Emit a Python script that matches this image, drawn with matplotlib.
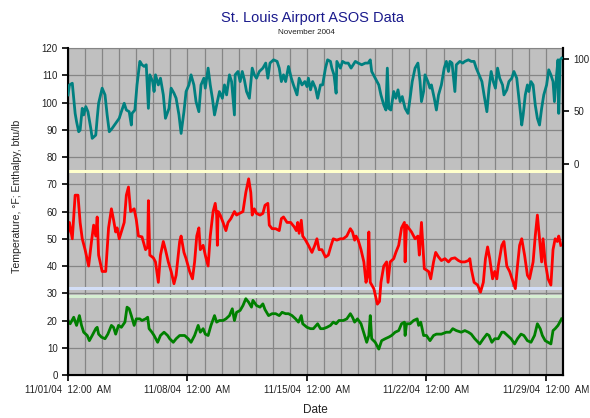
import numpy as np
import pandas as pd
import matplotlib
matplotlib.use('Agg')
import matplotlib.pyplot as plt
import matplotlib.dates as mdates

# hours since 11/01/04 00:00 and readings
temp_hours = [0, 2, 6, 10, 14, 17, 20, 24, 29, 33, 36, 39, 41, 43, 48, 53, 57, 61, 64, 67, 69, 72, 79, 82, 85,
              88, 93, 96, 99, 104, 109, 112, 113, 115, 120, 123, 127, 130, 134, 137,
              141, 145, 149, 152, 157, 159, 163, 166, 171, 175, 178, 181, 184, 186, 190, 193, 197, 200, 204,
              207, 209, 210, 211, 214, 218, 222, 225, 229, 234, 237, 241, 246, 250, 254, 257, 259, 262, 265,
              270, 274, 277,
              281, 283, 287, 292, 297, 300, 303, 308, 313, 318, 321, 323, 325, 328, 330, 334, 338, 343, 347,
              350, 353, 357, 362, 366, 370, 373, 378, 383, 387, 392, 397, 400, 403, 405, 408, 412, 416, 419,
              421, 423, 425, 430, 435, 438, 440, 444, 448, 450, 453, 458, 461, 465, 469, 473, 474, 476, 483,
              488, 492, 494, 497, 501, 507, 510, 514, 517, 521, 525, 530, 535, 539, 544, 549, 553,
              558, 563, 565, 567, 571, 576, 580, 584, 587, 590, 593, 597, 600, 603, 605, 610, 613, 617, 621,
              626, 629, 632, 635, 638, 642, 646, 649, 654, 657, 660, 663, 666, 668, 671, 675, 679, 682, 685,
              688, 690, 693]
temp_f = [52.5, 56, 50, 66, 66, 56, 50, 46, 40, 49, 55, 51, 58, 44, 38, 38, 54, 61, 57, 52.5, 54, 50, 56, 66, 69,
          60, 61, 57, 51, 50.7, 46, 47, 64, 44, 43, 41.5, 34, 44, 49, 46,
          41.5, 38, 33.5, 36.6, 49, 51, 45, 42.7, 38, 35.3, 41.5, 51, 54, 46, 47.6, 44, 40, 51, 60,
          63, 58.7, 47.6, 60, 58.7, 56, 53, 56, 57.4, 60, 58.7, 59.3, 60, 67, 72, 67, 58.7, 61, 59.3,
          58.7, 59.3, 62.3,
          63, 55, 53.7, 53.7, 53, 57.4, 58, 56, 56, 54.4, 53, 56, 52, 56.8, 51, 49.5, 47.6, 45, 47.6,
          50, 46, 46, 43.3, 44, 47.6, 50, 49.5, 50, 50, 51, 53.7, 52.5, 49.5, 51, 49.5, 46, 41.5, 34,
          36, 52.5, 34, 31.7, 26, 27, 34, 40, 41.5, 34, 41.5, 42.7, 45, 47.6, 54, 56, 41.5, 55, 52.5,
          50, 51, 44, 56, 39, 38, 35.3, 41.5, 45, 43.3, 42, 42.7, 41.5, 42.7, 43, 42, 41.5,
          41.5, 42, 42.7, 39, 34, 33, 30.4, 34, 42.7, 47, 42.7, 35.3, 38, 35.3, 40, 47.6, 49, 40, 38,
          34, 31.7, 40, 47.6, 50, 44, 36.6, 35.3, 41.5, 51, 58.7, 50, 41.5, 50, 41.5, 35.3, 33, 46, 50,
          49, 51, 47.6]

enth_hours = [0, 3, 8, 12, 16, 19, 22, 27, 30, 34, 39, 41, 43, 47, 52, 56, 61, 64, 67, 71, 75, 80, 83, 86, 89,
              93, 96, 101, 104, 109, 112, 114, 118, 121, 126, 130, 135,
              140, 143, 148, 152, 157, 164, 169, 173, 178, 183, 186, 190, 193, 197, 201, 206, 209, 213, 218,
              222, 227, 231, 234, 237, 242, 246, 250, 254, 258, 260, 265, 270, 274,
              277, 282, 287, 292, 297, 301, 306, 310, 315, 320, 324, 328, 330, 336, 341, 345, 351, 355, 359,
              364, 369, 373, 377, 381, 387, 392, 397, 400, 403, 407, 412, 417, 420,
              423, 425, 427, 432, 437, 441, 446, 451, 455, 460, 465, 469, 473, 474, 476, 481, 486, 491, 493,
              496, 500, 504, 509, 514, 518, 525, 532, 537, 541, 546, 553,
              558, 563, 567, 572, 579, 584, 589, 592, 596, 600, 605, 610, 613, 618, 623, 628, 632, 637, 641,
              646, 651, 656, 660, 664, 667, 671, 675, 679, 682, 685, 689, 694]
enth_btu = [20, 18.8, 21.2, 18.2, 21.8, 18.2, 15.7, 14.5, 12.6, 14.5, 17, 17.5, 15, 13.9, 13.3, 15, 18.2, 17.5,
            15, 18.2, 17.5, 19.4, 24.9, 24.3, 21.8, 18.2, 20.6, 20.6, 20, 20.6, 21.2, 17, 15.7, 14.5, 12,
            14.5, 15.7,
            14.5, 13.3, 12, 13.3, 14.5, 14.5, 13.3, 12, 14.5, 18.2, 15.7, 17, 15, 14.5, 18.2, 21.8, 19.4,
            20, 20, 20.6, 21.8, 24.3, 20, 23, 23.7, 25.5, 28, 26.7, 24.9, 27.4, 25.5, 24.9, 26.1,
            24, 21.8, 22.5, 22.5, 21.8, 23, 22.5, 22.5, 21.8, 20.6, 19.4, 21.8, 18.8, 17.5, 17, 17, 18.8,
            17, 17, 17.5, 18.2, 19.4, 18.8, 20, 20, 20.6, 22.5, 21.2, 19.4, 20.6, 18.8, 14.5, 12,
            14.5, 21.8, 13.3, 12, 9.5, 12.6, 13.3, 13.9, 14.5, 15.7, 16.3, 18.8, 19.4, 14.5, 18.8, 18.8,
            20, 20.6, 18.2, 19.4, 14.5, 14.5, 12.6, 14.5, 15, 15, 15.7, 15.7, 17, 16.3, 15.7,
            16.3, 15.7, 15, 13.3, 11.4, 13.3, 15, 14.5, 12, 13.3, 13.3, 15.7, 15.7, 14.5, 13.3, 11.4,
            13.3, 15, 14.5, 12.6, 12, 14.5, 18.8, 17, 14.5, 12.6, 12, 11.4, 16.3, 17, 18.2, 20.6]

rh_hours = [0, 2, 6, 8, 10, 12, 15, 17, 20, 22, 25, 28, 32, 34, 39, 41, 43, 48, 52, 55, 58, 62, 67, 72, 75,
            79, 82, 86, 89, 90, 94, 97, 101, 104, 107, 110, 113, 115, 119, 121, 123, 127, 130, 134, 137,
            142, 145, 149, 152, 156, 159, 163, 166, 170, 173, 177, 180, 184, 187, 191, 193, 197, 200, 203,
            206, 209, 213, 217, 220, 223, 227, 230, 234, 235, 239, 242, 245, 248, 251, 255, 259, 262, 265,
            269, 274, 278,
            281, 284, 289, 294, 297, 300, 303, 306, 310, 314, 317, 322, 325, 329, 333, 336, 338, 341, 344,
            348, 351, 355, 358, 362, 365, 369, 371, 374, 377, 378, 383, 386, 390, 394, 398, 401, 404, 408,
            413, 418,
            422, 425, 427, 432, 437, 440, 444, 447, 449, 451, 454, 458, 461, 464, 467, 470, 474, 478, 481,
            484, 488, 492, 495, 497, 500, 502, 506, 509, 511, 515, 518, 521, 525, 529, 532, 535, 537, 540,
            544, 546, 551, 555,
            558, 563, 567, 571, 574, 578, 582, 585, 589, 592, 595, 598, 601, 604, 607, 611, 613, 617, 620,
            624, 627, 631, 633, 636, 638, 640, 643, 646, 648, 651, 654, 657, 660, 663, 666, 669, 673, 676,
            679, 682, 684, 687, 689, 690, 692, 694]
rh_pct = [65.8, 75.3, 76.9, 62.6, 48.2, 40.3, 30.7, 32.3, 53.0, 46.7, 54.6, 49.8, 33.9, 24.4, 27.5, 43.5, 57.8,
          72.2, 65.8, 46.7, 30.7, 33.9, 38.7, 43.5, 49.8, 57.8, 51.4, 49.8, 37.1, 48.2, 51.4, 75.3, 97.7,
          94.5, 92.9, 94.5, 53.0, 84.9, 78.5, 69.0, 84.9, 75.3, 81.7, 65.8, 43.5,
          53.0, 72.2, 67.4, 62.6, 46.7, 29.1, 49.8, 69.0, 75.3, 84.9, 75.3, 59.4, 49.8, 75.3, 81.7, 72.2,
          91.3, 75.3, 62.6, 46.7, 56.2, 69.0, 62.6, 75.3, 65.8, 84.9, 78.5, 46.7, 84.9, 88.1, 78.5, 88.1,
          80.1, 69.0, 62.6, 91.3, 84.9, 81.7, 88.1, 91.3, 96.1,
          81.7, 96.1, 99.2, 97.7, 91.3, 78.5, 84.9, 78.5, 92.9, 81.7, 75.3, 65.8, 81.7, 75.3, 78.5, 73.7,
          81.7, 70.6, 78.5, 72.2, 62.6, 75.3, 75.3, 91.3, 99.2, 97.7, 91.3, 84.9, 67.4, 97.7, 91.3, 97.7,
          96.1, 96.1, 91.3, 94.5, 97.7, 96.1, 94.5, 96.1,
          96.1, 99.2, 88.1, 81.7, 75.3, 65.8, 56.2, 51.4, 91.3, 53.0, 51.4, 69.0, 62.6, 70.6, 59.4, 64.2,
          53.0, 48.2, 62.6, 78.5, 91.3, 96.1, 78.5, 59.4, 69.0, 84.9, 78.5, 72.2, 75.3, 62.6, 51.4, 65.8,
          75.3, 91.3, 97.7, 88.1, 97.7, 96.1, 69.0, 94.5, 97.7, 96.1,
          97.7, 99.2, 97.7, 97.7, 91.3, 84.9, 78.5, 65.8, 49.8, 72.2, 88.1, 78.5, 72.2, 91.3, 81.7, 75.3,
          65.8, 70.6, 78.5, 81.7, 88.1, 81.7, 69.0, 49.8, 37.1, 46.7, 65.8, 75.3, 69.0, 78.5, 75.3, 56.2,
          43.5, 37.1, 53.0, 65.8, 75.3, 89.7, 84.9, 78.5, 59.4, 84.9, 99.2, 48.2, 99.2, 100.8]

# reference lines on the left scale
ref_levels = [75, 32, 29]
ref_colors = ['#FFFFCC', '#D3DEF7', '#D6EED2']

start = pd.Timestamp('2004-11-01')
end = pd.Timestamp('2004-11-30')
t_temp = start + pd.to_timedelta(temp_hours, unit='h')
t_enth = start + pd.to_timedelta(enth_hours, unit='h')
t_rh = start + pd.to_timedelta(rh_hours, unit='h')

plt.rcParams['font.family'] = ['Liberation Sans', 'DejaVu Sans']

fig = plt.figure(figsize=(5.9, 4.18), dpi=100)
ax = fig.add_axes([0.1153, 0.1029, 0.8389, 0.7821])
ax.set_facecolor('#C0C0C0')

for lvl, c in zip(ref_levels, ref_colors):
    ax.axhline(lvl, color=c, lw=2.2, zorder=2)

ax.plot(t_temp, temp_f, color='#FF0000', lw=2.0, zorder=3)
ax.plot(t_enth, enth_btu, color='#008000', lw=2.0, zorder=3)

ax.set_ylim(0, 120)
ax.set_yticks(np.arange(0, 121, 10))
ax.set_xlim(start, end)
ax.xaxis.set_major_locator(mdates.DayLocator(bymonthday=[1, 8, 15, 22, 29]))
ax.xaxis.set_minor_locator(mdates.DayLocator())
ax.xaxis.set_major_formatter(mdates.DateFormatter('%m/%d/%y  %I:%M  %p'))
ax.grid(True, which='both', color='#858585', lw=0.9, zorder=1)
ax.set_axisbelow(True)
ax.tick_params(axis='both', which='major', labelsize=7, direction='out', length=4, width=1.2,
               colors='black', labelcolor='#222222')
ax.tick_params(axis='x', which='minor', length=0)

for s in ['left', 'bottom', 'right']:
    ax.spines[s].set_color('black')
    ax.spines[s].set_linewidth(1.5)
ax.spines['top'].set_color('#858585')

ax2 = ax.twinx()
ax2.plot(t_rh, rh_pct, color='#008080', lw=2.0, zorder=3)
ax2.set_ylim(-201, 110.4)
ax2.set_yticks([0, 50, 100])
ax2.tick_params(axis='y', labelsize=7, direction='out', length=4, width=1.2, labelcolor='#222222')
ax2.spines['right'].set_linewidth(1.5)
ax2.spines['top'].set_visible(False)
ax2.set_xlim(start, end)

ax.set_ylabel('Temperature, °F; Enthalpy, btu/lb', fontsize=7.6, color='#222222')
ax.yaxis.set_label_coords(-0.094, 0.545)
ax.set_xlabel('Date', fontsize=8.5, color='#222222', labelpad=6)

fig.text(0.529, 0.958, 'St. Louis Airport ASOS Data', ha='center', va='center', fontsize=10.5,
         color='#1A1A8C')
fig.text(0.52, 0.922, 'November 2004', ha='center', va='center', fontsize=5.8, color='#222222')

fig.savefig('out.png', dpi=100)
